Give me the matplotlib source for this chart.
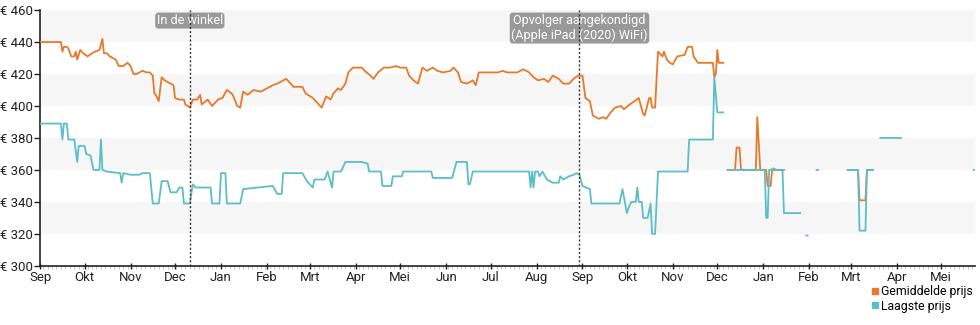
import numpy as np
import pandas as pd
import matplotlib.pyplot as plt
import matplotlib.dates as mdates
from matplotlib.lines import Line2D

plt.rcParams['font.family'] = ['Roboto', 'DejaVu Sans']

# Days since the start date, with the price on that day (nan = no data)
start = pd.Timestamp('2019-09-01')

gem_dag = [0, 14, 15, 16, 18, 19, 21, 23, 24, 25, 27, 29, 32, 35, 37, 40, 42, 43, 45, 47,
           51, 53, 56, 59, 61, 63, 65, 69, 72, 74, 76, 77, 78, 80, 82, 84, 88, 90, 91, 94,
           97, 98, 101, 103, 106, 108, 109, 113, 116, 120, 123, 126, 129, 130, 133, 135, 137, 140, 144, 149,
           153, 157, 160, 162, 166, 169, 171, 177, 179, 184, 190, 193, 196, 198, 201, 203, 206, 208, 211, 214,
           217, 219, 223, 225, 228, 232, 236, 240, 243, 247, 249, 252, 255, 258, 261, 265, 268, 272, 277, 279,
           282, 284, 288, 292, 294, 296, 299, 304, 309, 312, 315, 322, 326, 330, 333, 336, 340, 343, 346, 350,
           353, 357, 360, 363, 366, 368, 371, 373, 377, 380, 382, 385, 388, 392, 394, 398, 404, 407, 408, 411,
           412, 413, 415, 417, 420, 421, 423, 425, 427, 430, 435, 437, 440, 441, 444, 454, 455, 456, 457, 458,
           461, 462,
           464, 469, 470, 472, 473, 483, 484, 486, 490, 491, 493, 494, 502, 503,
           545, 552, 553, 557, 558, 562]
gem_prijs = [440, 440, 434, 437, 437, 436, 431, 431, 434, 429, 435, 433, 431, 433, 434, 435, 442, 433, 433, 431,
             429, 425, 425, 427, 425, 420, 420, 422, 421, 421, 419, 408, 407, 403, 418, 416, 414, 413, 405, 404,
             404, 401, 399, 404, 404, 407, 401, 404, 400, 404, 405, 410, 408, 407, 400, 399, 409, 407, 410, 409,
             411, 413, 414, 415, 417, 414, 412, 412, 408, 405, 399, 406, 404, 408, 411, 410, 414, 421, 424, 424,
             424, 422, 419, 417, 421, 424, 424, 425, 424, 424, 419, 416, 414, 424, 422, 424, 422, 421, 422, 424,
             421, 415, 414, 416, 413, 421, 421, 421, 421, 422, 421, 421, 423, 421, 418, 416, 417, 415, 419, 417,
             414, 414, 417, 419, 419, 405, 403, 394, 392, 393, 392, 396, 399, 400, 398, 401, 405, 395, 394, 405,
             405, 399, 399, 434, 431, 434, 429, 427, 426, 431, 432, 437, 437, 431, 427, 427, 418, 420, 435, 427,
             427, np.nan,
             360, 360, 374, 374, 360, 360, 393, 360, 360, 350, 350, 360, 360, np.nan,
             360, 360, 341, 341, 360, 360]

laag_dag = [0, 14, 15, 16, 18, 19, 23, 25, 26, 30, 31, 34, 36, 40, 41, 42, 45, 54, 55, 56,
            61, 67, 69, 74, 76, 80, 82, 86, 88, 92, 94, 96, 97, 101, 103, 105, 115, 116, 121, 122,
            125, 126, 135, 137, 147, 157, 160, 163, 164, 177, 180, 184, 185, 192, 194, 197, 198, 203, 206, 217,
            221, 222, 230, 231, 237, 238, 244, 245, 264, 265, 278, 281, 288, 289, 290, 292, 330, 331, 332, 333,
            334, 336, 337, 339, 342, 346, 350, 351, 353, 357, 360, 362, 364, 366, 371, 372, 391, 393, 396, 397,
            399, 402, 403, 404, 406, 407, 410, 412, 413, 415, 417, 437, 438, 454, 455, 457, 461, 462,
            464, 489, 490, 491, 492, 493, 495, 497, 501, 502, 513, 514,
            517, 518, 519, 524, 525, 526,
            545, 552, 553, 557, 558, 562, 563,
            567, 581, 582,
            630, 631]
laag_prijs = [389, 389, 379, 389, 389, 379, 379, 365, 375, 375, 370, 369, 360, 360, 379, 360, 359, 358, 352, 358,
              357, 357, 358, 358, 339, 339, 353, 353, 346, 346, 349, 349, 339, 339, 351, 349, 349, 339, 339, 358,
              358, 339, 339, 348, 349, 350, 345, 345, 358, 358, 353, 349, 354, 354, 359, 349, 359, 359, 365, 365,
              364, 359, 359, 350, 350, 356, 356, 359, 359, 355, 355, 365, 365, 351, 351, 359, 359, 349, 359, 349,
              359, 359, 356, 359, 354, 352, 352, 356, 354, 356, 357, 358, 357, 350, 348, 339, 339, 348, 333, 336,
              340, 340, 349, 340, 340, 330, 330, 339, 320, 320, 359, 359, 379, 379, 418, 396, 396, np.nan,
              360, 360, 330, 330, 360, 360, 361, 360, 360, 333, 333, np.nan,
              319, 319, np.nan, 360, 360, np.nan,
              360, 360, 322, 322, 360, 360, np.nan,
              380, 380, np.nan,
              360, 360]

maanden = ['Jan', 'Feb', 'Mrt', 'Apr', 'Mei', 'Jun', 'Jul', 'Aug', 'Sep', 'Okt', 'Nov', 'Dec']

events = [('2019-12-11', 'In de winkel'),
          ('2020-08-30', 'Opvolger aangekondigd\n(Apple iPad (2020) WiFi)')]

oranje = '#e8792b'
blauw = '#5bbec8'

gem_x = start + pd.to_timedelta(gem_dag, unit='D')
laag_x = start + pd.to_timedelta(laag_dag, unit='D')

fig = plt.figure(figsize=(9.8, 3.25), dpi=100)
ax = fig.add_axes([0.041, 0.182, 0.954, 0.787])

# alternating background bands
for lo in [440, 400, 360, 320]:
    ax.axhspan(lo, lo + 20, color='#f6f6f6', zorder=0, lw=0)

ax.plot(gem_x, gem_prijs, color=oranje, lw=1.3, zorder=3)
ax.plot(laag_x, laag_prijs, color=blauw, lw=1.3, zorder=4)

for datum, tekst in events:
    d = pd.Timestamp(datum)
    ax.axvline(d, color='#333333', lw=1, ls=(0, (1.5, 1.5)), zorder=6)
    ax.text(d, 457.5, tekst, ha='center', va='top', fontsize=9, color='white', zorder=5,
            linespacing=1.15,
            bbox=dict(boxstyle='round,pad=0.12,rounding_size=0.25', fc='#999999', ec='none'))

ax.set_ylim(300, 460)
ax.set_yticks(range(300, 461, 20))
ax.set_yticklabels([f'€ {v}' for v in range(300, 461, 20)])
ax.set_xlim(start, start + pd.Timedelta(days=631))

ax.xaxis.set_major_locator(mdates.MonthLocator())
ax.xaxis.set_major_formatter(plt.FuncFormatter(
    lambda v, p: maanden[mdates.num2date(v).month - 1]))
ax.xaxis.set_minor_locator(mdates.DayLocator(interval=3))

for s in ['top', 'right']:
    ax.spines[s].set_visible(False)
for s in ['left', 'bottom']:
    ax.spines[s].set_color('#222222')
    ax.spines[s].set_linewidth(1.2)

ax.tick_params(axis='y', direction='out', length=4, width=1, labelsize=9.5, colors='#222222', pad=1)
ax.tick_params(axis='x', which='major', direction='inout', length=5, width=1, labelsize=9.5,
               colors='#222222', pad=1)
ax.tick_params(axis='x', which='minor', direction='out', length=2, width=0.5, color='#aaaaaa')

handles = [Line2D([], [], ls='none', marker='s', ms=5, color=oranje),
           Line2D([], [], ls='none', marker='s', ms=5, color=blauw)]
fig.legend(handles, ['Gemiddelde prijs', 'Laagste prijs'], loc='upper left',
           bbox_to_anchor=(0.889, 0.122), frameon=False, fontsize=8.8,
           handlelength=0.6, handletextpad=0.2, labelspacing=0.1, borderpad=0, borderaxespad=0)

fig.savefig('out.png', dpi=100)
